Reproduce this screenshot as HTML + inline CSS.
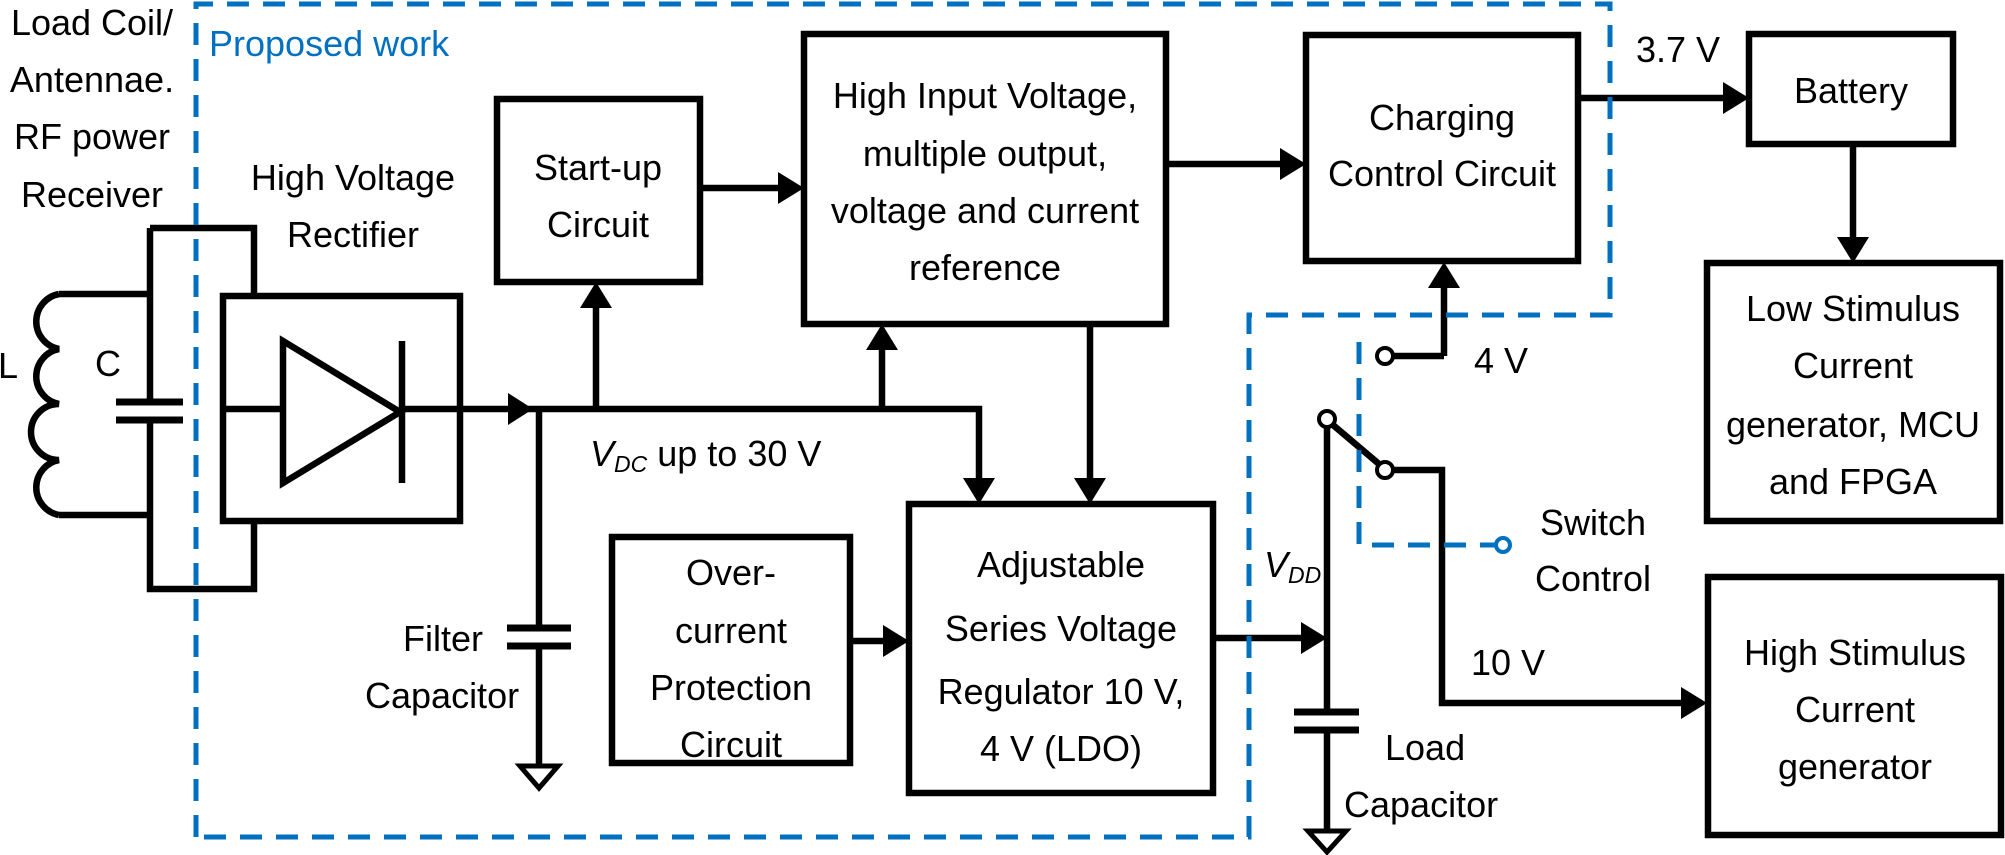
<!DOCTYPE html>
<html><head><meta charset="utf-8"><style>
html,body{margin:0;padding:0;background:#fff}
svg{display:block}
text{font-family:"Liberation Sans",sans-serif;font-size:36px;fill:#000}
</style></head><body>
<svg width="2005" height="855" viewBox="0 0 2005 855" xmlns="http://www.w3.org/2000/svg">
<g fill="none" stroke="#000" stroke-width="6.5">
<path d="M150,294 L59,294 M150,515 L59,515"/>
<path d="M59,294 A28,28 0 0 0 59,349 A28,28 0 0 0 59,404 A28,28 0 0 0 59,460 A28,28 0 0 0 59,515" />
<path d="M150,228 L254,228 L254,296 M150,228 L150,402 M150,420 L150,589 L254,589 L254,521"/>
<path d="M116,402 L183,402 M116,420 L183,420" stroke-width="7"/>
<rect x="223" y="296" width="237" height="225"/>
<path d="M283,341 L400,412 L283,483 Z"/>
<path d="M402,341 L402,483"/>
<path d="M223,409 L283,409 M400,409 L979,409 L979,480"/>
<rect x="497" y="99" width="203" height="183"/>
<rect x="804" y="34" width="362" height="290"/>
<rect x="1306" y="35" width="272" height="226"/>
<rect x="1749" y="34" width="204" height="110"/>
<rect x="1707" y="263" width="293" height="258"/>
<rect x="909" y="504" width="304" height="289"/>
<rect x="612" y="537" width="238" height="226"/>
<rect x="1708" y="577" width="293" height="258"/>
<path d="M596,409 L596,306 M882,409 L882,348 M700,188 L778,188 M1166,164 L1282,164 M1578,98 L1725,98 M1853,144 L1853,240 M1090,324 L1090,480 M850,641 L886,641 M1213,638 L1304,638 M1444,356 L1444,286"/>
<path d="M539,409 L539,628 M539,646 L539,766"/>
<path d="M507,628 L571,628 M507,646 L571,646" stroke-width="7"/>
<path d="M520,766 L558,766 L539,788 Z" stroke-width="5"/>
<path d="M1327,427 L1327,712 M1327,730 L1327,829"/>
<path d="M1294,712 L1359,712 M1294,730 L1359,730" stroke-width="7"/>
<path d="M1308,831 L1346,831 L1327,852 Z" stroke-width="5"/>
<path d="M1393,356 L1444,356"/>
<path d="M1333,425 L1379,464" />
<path d="M1393,470 L1442,470 L1442,703 L1684,703"/>
</g>
<g fill="#fff" stroke="#000" stroke-width="4">
<circle cx="1385" cy="356" r="8"/>
<circle cx="1327" cy="419" r="8"/>
<circle cx="1385" cy="470" r="8"/>
</g>
<g fill="#000">
<path d="M533,409 L508,393 L508,425 Z"/>
<path d="M596,282 L580,308 L612,308 Z"/>
<path d="M882,324 L866,350 L898,350 Z"/>
<path d="M804,188 L778,172 L778,204 Z"/>
<path d="M1306,164 L1280,148 L1280,180 Z"/>
<path d="M1749,98 L1723,82 L1723,114 Z"/>
<path d="M1853,263 L1837,237 L1869,237 Z"/>
<path d="M979,504 L963,478 L995,478 Z"/>
<path d="M1090,504 L1074,478 L1106,478 Z"/>
<path d="M909,641 L883,625 L883,657 Z"/>
<path d="M1327,638 L1301,622 L1301,654 Z"/>
<path d="M1444,262 L1428,288 L1460,288 Z"/>
<path d="M1707,703 L1681,687 L1681,719 Z"/>
</g>
<g fill="none" stroke="#0070c0" stroke-width="5" stroke-dasharray="22,14">
<path d="M196,837 L196,4 L1610,4 L1610,315 L1249,315 L1249,837 L196,837"/>
<path d="M1359,342 L1359,545 L1495,545"/>
</g>
<circle cx="1503" cy="545" r="7" fill="#fff" stroke="#0070c0" stroke-width="4"/>
<text x="209" y="56" style="fill:#0070c0">Proposed work</text>
<g text-anchor="middle">
<text x="92" y="35">Load Coil/</text>
<text x="92" y="92">Antennae.</text>
<text x="92" y="149">RF power</text>
<text x="92" y="207">Receiver</text>
<text x="8" y="378">L</text>
<text x="108" y="376">C</text>
<text x="353" y="190">High Voltage</text>
<text x="353" y="247">Rectifier</text>
<text x="598" y="180">Start-up</text>
<text x="598" y="237">Circuit</text>
<text x="985" y="108">High Input Voltage,</text>
<text x="985" y="166">multiple output,</text>
<text x="985" y="223">voltage and current</text>
<text x="985" y="280">reference</text>
<text x="1442" y="130">Charging</text>
<text x="1442" y="186">Control Circuit</text>
<text x="1851" y="103">Battery</text>
<text x="1853" y="321">Low Stimulus</text>
<text x="1853" y="378">Current</text>
<text x="1853" y="437">generator, MCU</text>
<text x="1853" y="494">and FPGA</text>
<text x="1061" y="577">Adjustable</text>
<text x="1061" y="641">Series Voltage</text>
<text x="1061" y="704">Regulator 10 V,</text>
<text x="1061" y="761">4 V  (LDO)</text>
<text x="731" y="585">Over-</text>
<text x="731" y="643">current</text>
<text x="731" y="700">Protection</text>
<text x="731" y="757">Circuit</text>
<text x="1855" y="665">High Stimulus</text>
<text x="1855" y="722">Current</text>
<text x="1855" y="779">generator</text>
<text x="1593" y="535">Switch</text>
<text x="1593" y="591">Control</text>
</g>
<text x="483" y="651" text-anchor="end">Filter</text>
<text x="365" y="708">Capacitor</text>
<text x="590" y="466"><tspan font-style="italic">V</tspan><tspan font-style="italic" font-size="23" dy="6">DC</tspan><tspan dy="-6"> up to 30 V</tspan></text>
<text x="1636" y="62">3.7 V</text>
<text x="1474" y="373">4  V</text>
<text x="1471" y="675">10  V</text>
<text x="1264" y="577"><tspan font-style="italic">V</tspan><tspan font-style="italic" font-size="23" dy="6">DD</tspan></text>
<text x="1385" y="760">Load</text>
<text x="1344" y="817">Capacitor</text>
</svg>
</body></html>
